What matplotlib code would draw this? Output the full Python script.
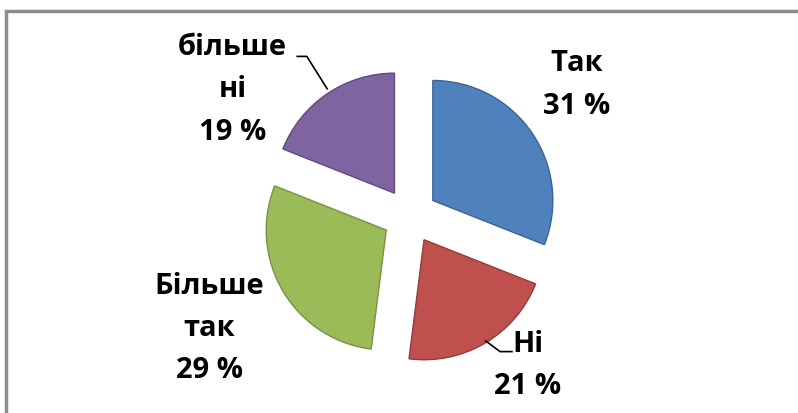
import matplotlib.pyplot as plt
from matplotlib.patches import Rectangle

labels = ["Так", "Ні", "Більше\nтак", "більше\nні"]
shares = [31, 21, 29, 19]
colors = ["#4F81BD", "#C0504D", "#9BBB59", "#8064A2"]
edges = ["#3A6496", "#943B39", "#779244", "#5F4A7A"]

# label block centres and leader lines, in pie-radius units
label_pos = [(1.39, 1.10), (0.98, -1.24), (-1.67, -0.93), (-1.48, 1.06)]
leaders = {
    1: [(0.63, -1.04), (0.75, -1.13), (0.85, -1.13)],
    3: [(-0.94, 1.33), (-0.86, 1.33), (-0.69, 1.06)],
}

W, H = 798, 414
cx, cy, R = 410, 217, 120

plt.rcParams["font.family"] = ["Open Sans", "DejaVu Sans"]

fig = plt.figure(figsize=(W / 100, H / 100), dpi=100)
ax = fig.add_axes([0, 0, 1, 1])

wedges, _ = ax.pie(
    shares,
    colors=colors,
    startangle=90,
    counterclock=False,
    explode=[0.23] * len(shares),
    radius=1.0,
    wedgeprops=dict(linewidth=1.0),
)
for w, ec in zip(wedges, edges):
    w.set_edgecolor(ec)

# pie() resets the limits, so set them afterwards
ax.set_xlim(-cx / R, (W - cx) / R)
ax.set_ylim(-(H - cy) / R, cy / R)
ax.set_aspect("equal")
ax.axis("off")

for (x, y), lab, s in zip(label_pos, labels, shares):
    ax.text(x, y, f"{lab}\n{s} %", ha="center", va="center",
            fontsize=21, fontweight="bold", linespacing=1.6, color="black")

for pts in leaders.values():
    xs, ys = zip(*pts)
    ax.plot(xs, ys, color="black", lw=1.2)

fig.patches.append(Rectangle((6 / W, -0.1), 1.2, (H - 12) / H + 0.1,
                             transform=fig.transFigure, fill=False,
                             edgecolor="#8C8C8C", linewidth=2.5))

fig.savefig("out.png", dpi=100)
